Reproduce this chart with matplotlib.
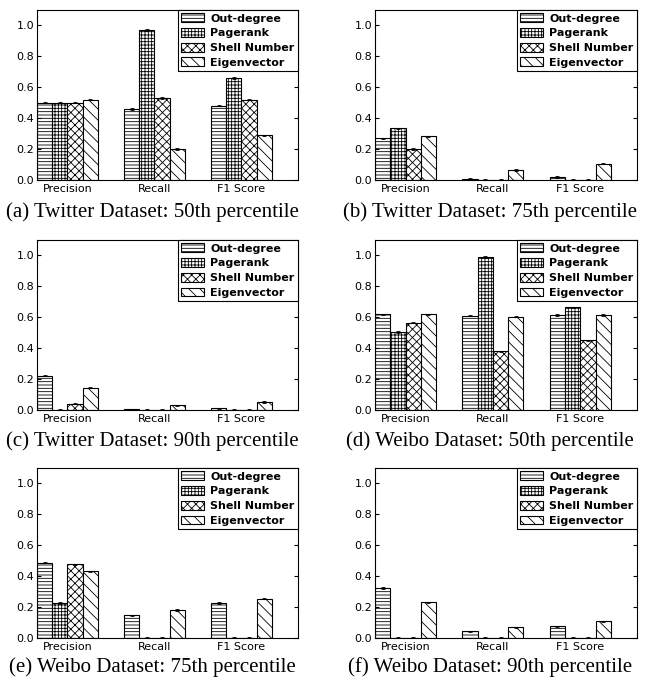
import numpy as np
import matplotlib
matplotlib.use('Agg')
import matplotlib.pyplot as plt

plt.rcParams['hatch.linewidth'] = 0.6
plt.rcParams['font.family'] = 'DejaVu Sans'

metrics = ['Precision', 'Recall', 'F1 Score']
methods = ['Out-degree', 'Pagerank', 'Shell Number', 'Eigenvector']
hatches = ['-----', '+++++', 'xxxx', '\\\\\\']

# values per panel: rows = methods, cols = metrics
tw50 = [[0.50, 0.46, 0.48],
        [0.50, 0.97, 0.66],
        [0.50, 0.53, 0.52],
        [0.52, 0.20, 0.29]]
tw75 = [[0.27, 0.009, 0.02],
        [0.335, 0.001, 0.003],
        [0.20, 0.0, 0.003],
        [0.283, 0.065, 0.105]]
tw90 = [[0.222, 0.004, 0.011],
        [0.0, 0.0, 0.0],
        [0.04, 0.0, 0.001],
        [0.145, 0.03, 0.052]]
wb50 = [[0.62, 0.61, 0.615],
        [0.505, 0.99, 0.665],
        [0.565, 0.38, 0.452],
        [0.62, 0.605, 0.615]]
wb75 = [[0.488, 0.146, 0.226],
        [0.226, 0.0, 0.0],
        [0.477, 0.0, 0.0],
        [0.432, 0.181, 0.254]]
wb90 = [[0.323, 0.043, 0.075],
        [0.0, 0.0, 0.0],
        [0.0, 0.0, 0.0],
        [0.232, 0.069, 0.108]]
err = 0.004

panels = [tw50, tw75, tw90, wb50, wb75, wb90]
captions = ['(a) Twitter Dataset: 50th percentile',
            '(b) Twitter Dataset: 75th percentile',
            '(c) Twitter Dataset: 90th percentile',
            '(d) Weibo Dataset: 50th percentile',
            '(e) Weibo Dataset: 75th percentile',
            '(f) Weibo Dataset: 90th percentile']

W, H = 652, 691
fig = plt.figure(figsize=(W / 100, H / 100), dpi=100)

lefts = [37, 375]
widths = [261, 262]
tops = [10, 240, 468]
height = 170
cap_y = [212, 441, 667]
cap_x = [152, 490]

ind = np.arange(len(metrics))
width = 0.175

for k, data in enumerate(panels):
    r, c = divmod(k, 2)
    ax = fig.add_axes([lefts[c] / W, 1 - (tops[r] + height) / H, widths[c] / W, height / H])
    for i, name in enumerate(methods):
        ax.bar(ind + i * width, data[i], width, align='edge', color='white',
               edgecolor='black', linewidth=0.8, hatch=hatches[i], label=name,
               yerr=err, error_kw=dict(ecolor='black', capsize=1.5, elinewidth=0.6, capthick=0.6))
    ax.set_xlim(0, 3)
    ax.set_ylim(0, 1.1)
    ax.set_yticks(np.arange(0, 1.01, 0.2))
    ax.set_xticks(ind + 2 * width)
    ax.set_xticklabels(metrics)
    ax.tick_params(direction='in', top=True, right=True, labelsize=8, length=3, pad=2)
    ax.tick_params(axis='x', length=0, pad=3)
    leg = ax.legend(loc='upper right', borderaxespad=0, fancybox=False,
                    framealpha=1, edgecolor='black', prop={'weight': 'bold', 'size': 8},
                    handlelength=2.1, handleheight=0.85, labelspacing=0.4, borderpad=0.3,
                    handletextpad=0.55)
    leg.get_frame().set_linewidth(0.8)
    fig.text(cap_x[c] / W, 1 - cap_y[r] / H, captions[k], ha='center', va='center',
             family='Liberation Serif', fontsize=15)

fig.savefig('out.png', dpi=100)
